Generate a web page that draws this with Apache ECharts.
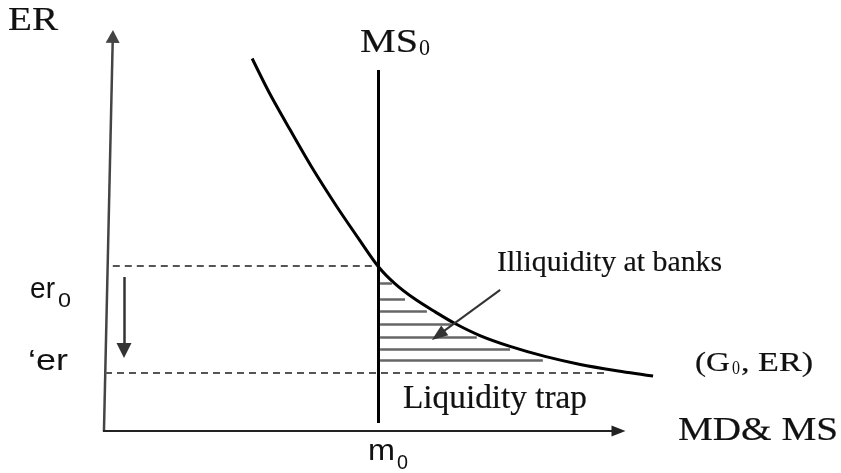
<!DOCTYPE html>
<html><head><meta charset="utf-8">
<script src="https://cdn.jsdelivr.net/npm/echarts@6/dist/echarts.min.js"></script>
<style>html,body{margin:0;padding:0;background:#fff}#c{width:841px;height:473px}</style>
</head><body><div id="c"></div>
<script>
// Money demand curve (MD): quantity of money vs exchange rate (ER)
const mdX = [28.3, 31.7, 35.6, 39.8, 44.4, 48.7, 52.5, 55.8, 59.6, 63.5, 67.3, 72.1, 77.9, 84.6, 91.4, 98.1, 105.4];
const mdY = [92.9, 84.1, 75.1, 65.7, 56.3, 48.1, 41.1, 36.7, 32.9, 29.7, 26.8, 23.8, 21.1, 18.6, 16.6, 15.1, 13.7];
// Money supply MS0 at m0
const m0 = 52.5;
const msBottom = 2;
const msTop = 90;
// Exchange-rate levels
const er0 = 41.1;
const erLow = 14.5;
const erLowEnd = 96.5;
// Hatched "illiquidity" region
const hatchY = [36.9, 32.9, 29.9, 26.7, 23.4, 20.4, 17.7];
const hatchEndX = [55.2, 57.7, 61.9, 66.7, 71.5, 77.9, 84.2];
// Arrows
const dropArrow = [[3.65, 38.4], [3.65, 20.1]];
const noteArrow = [[76.0, 35.2], [64.1, 23.9]];
const yAxisLine = [[-0.2, 0], [1.5, 98.4]];
const xAxisLine = [[-0.4, 0], [98.75, 0]];

const SERIF = '"Liberation Serif", "Times New Roman", serif';
const SANS = '"Liberation Sans", Arial, sans-serif';
const INK = '#111';

const ctx = document.createElement('canvas').getContext('2d');
function txt(text, left, right, yMid, size, family, heavy) {
  const font = size + 'px ' + family;
  ctx.font = font;
  const w = ctx.measureText(text).width;
  const style = { text: text, font: font, fill: INK, align: 'left', verticalAlign: 'middle' };
  if (heavy) { style.stroke = INK; style.lineWidth = 0.2; }
  return { type: 'text', x: left, y: yMid, scaleX: (right - left) / w, silent: true, style: style };
}

const chart = echarts.init(document.getElementById('c'), null, { renderer: 'canvas' });

function ml(pairs, style, endSymbol, endSize) {
  return {
    type: 'line', data: [], clip: false, silent: true, animation: false,
    markLine: {
      silent: true, animation: false, precision: 4,
      symbol: ['none', endSymbol || 'none'],
      symbolSize: endSize || 10,
      label: { show: false },
      emphasis: { disabled: true },
      lineStyle: style,
      data: pairs.map(p => [{ coord: p[0] }, { coord: p[1] }])
    }
  };
}

const option = {
  animation: false,
  backgroundColor: '#fff',
  grid: { left: 94.6, top: 30, width: 582.4, height: 409.02 },
  xAxis: { type: 'value', min: -2, max: 110, show: false },
  yAxis: { type: 'value', min: -2, max: 100, show: false },
  series: [
    ml([yAxisLine], { color: '#444', width: 2.5, type: 'solid' }, 'triangle', [14, 13]),
    ml([xAxisLine], { color: '#222', width: 2, type: 'solid' }, 'triangle', [11, 14]),
    ml([[[1.5, er0], [m0, er0]], [[0, erLow], [erLowEnd, erLow]]],
       { color: '#555', width: 2, type: [7, 5] }),
    ml(hatchY.map((y, i) => [[m0 + 0.4, y], [hatchEndX[i], y]]),
       { color: '#666', width: 2.5, type: 'solid' }),
    ml([[[m0, msBottom], [m0, msTop]]], { color: '#000', width: 3, type: 'solid' }),
    ml([dropArrow], { color: '#333', width: 2.5, type: 'solid' }, 'triangle', [15, 15]),
    ml([noteArrow], { color: '#333', width: 2, type: 'solid' }, 'triangle', [12, 16]),
    {
      type: 'line', name: 'MD', clip: false, silent: true, animation: false,
      data: mdX.map((x, i) => [x, mdY[i]]),
      smooth: 0.3, symbol: 'none',
      lineStyle: { color: '#000', width: 3 }
    }
  ],
  graphic: [
    txt('ER', 8, 58, 21, 33, SERIF, true),
    txt('MS', 360, 418, 43.5, 34, SERIF, true),
    txt('0', 419, 430, 48.5, 24, SERIF, false),
    txt('Illiquidity at banks', 497, 722, 263, 30, SERIF, true),
    txt('Liquidity trap', 403, 587, 399, 33, SERIF, true),
    txt('(G', 695, 730, 364, 27, SERIF, true),
    txt('0', 732, 740, 369, 18, SERIF, false),
    txt(', ER)', 741, 813, 364, 27, SERIF, true),
    txt('MD& MS', 678, 838, 431, 33, SERIF, true),
    txt('er', 30, 55, 289.6, 30, SANS, false),
    txt('0', 58, 71, 301, 21, SANS, false),
    txt('\u2018er', 28, 68, 361.6, 30, SANS, false),
    txt('m', 368, 395, 451.6, 30, SANS, false),
    txt('0', 397, 408, 463, 20, SANS, false)
  ]
};
chart.setOption(option);
</script>
</body></html>
